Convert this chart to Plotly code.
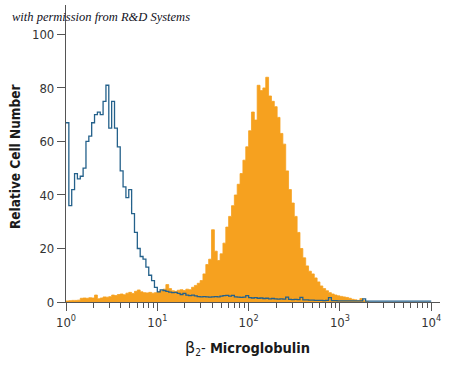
import plotly.graph_objects as go

# ---- data ----
channels_per_decade = 32

isotype_counts = [
    67, 36, 42, 48, 46, 47, 50, 60, 62, 67,
    70, 71, 70, 75, 81, 65, 75, 65, 58, 49,
    43, 39, 42, 33, 26, 20, 17, 16, 13, 10,
    8, 5.5, 3.8, 4.5, 4.3, 4.0, 3.7, 3.5, 3.6, 3.2,
    2.8, 3.2, 2.6, 2.4, 2.6, 2.3, 2.0, 1.9, 2.0, 1.9,
    1.8, 1.9, 2.0, 1.9, 2.2, 2.4, 2.5, 2.2, 2.5, 1.9,
    1.8, 1.7, 1.8, 2.4, 1.6, 1.5, 1.6, 1.4, 1.5, 1.3,
    1.4, 1.2, 1.3, 1.2, 1.1, 1.2, 1.1, 1.8, 1.0, 0.9,
    1.0, 0.9, 1.7, 0.8, 0.8, 0.7, 0.7, 0.6, 0.6, 0.6,
    0.5, 0.6, 1.6, 0.5, 0.5, 0.4, 0.4, 0.4, 0.4, 0.4,
    0.4, 0.4, 0.4, 0.4, 1.2, 0.3, 0.3, 0.3, 0.3, 0.3,
    0.3, 0.3, 0.3, 0.3, 0.3, 0.3, 0.3, 0.3, 0.3, 0.3,
    0.3, 0.3, 0.3, 0.3, 0.3, 0.3, 0.3, 0.3, 0.3,
]

b2m_counts = [
    0.4, 0.5, 0.6, 0.6, 0.7, 1.4, 1.5, 1.4, 1.6, 1.5,
    2.6, 1.2, 1.5, 1.9, 1.8, 2.0, 2.6, 2.4, 2.8, 3.0,
    2.7, 3.3, 3.6, 3.2, 4.0, 4.5, 3.8, 3.5, 3.4, 3.6,
    3.3, 3.5, 3.8, 4.2, 4.8, 6.5, 5.0, 4.2, 4.0, 4.4,
    4.6, 4.3, 4.8, 4.6, 5.5, 6.2, 7.0, 8.0, 10.5, 14,
    16, 27, 19, 15.5, 18, 22, 28, 32, 36, 40,
    44, 48, 53, 58, 64, 71, 68, 81, 79, 80,
    84, 77, 75, 73, 69, 63, 59, 49, 42, 37,
    32, 26, 20, 16.5, 13.5, 11.5, 10.5, 9, 7.5, 6,
    5, 4.2, 3.5, 3.0, 2.6, 2.3, 2.1, 1.9, 1.7, 1.4,
    1.0, 0.8, 0.6, 1.3, 0.5, 0.2, 0,
]

x_tick_values = [1, 10, 100, 1000, 10000]
x_tick_labels = ["10<sup>0</sup>", "10<sup>1</sup>", "10<sup>2</sup>",
                 "10<sup>3</sup>", "10<sup>4</sup>"]
y_tick_values = [0, 20, 40, 60, 80, 100]

# channel -> fluorescence scale
iso_x = [10 ** (i / channels_per_decade) for i in range(len(isotype_counts))]
b2m_x = [10 ** (i / channels_per_decade) for i in range(len(b2m_counts))]
minor_vals = [m * 10 ** d for d in range(4) for m in range(2, 10)]

TICK_FONT = "DejaVu Sans Condensed, Liberation Sans Narrow, DejaVu Sans, sans-serif"
AXIS_COL = "#555555"

fig = go.Figure()
fig.add_trace(go.Scatter(
    x=b2m_x, y=b2m_counts, mode="lines", line_shape="hv",
    line=dict(color="#f6a11f", width=0.8), fill="tozeroy",
    fillcolor="#f6a11f", hoverinfo="skip", showlegend=False,
))
fig.add_trace(go.Scatter(
    x=iso_x, y=isotype_counts, mode="lines", line_shape="hv",
    line=dict(color="#24618b", width=1.3), hoverinfo="skip", showlegend=False,
))

fig.update_layout(
    width=450, height=366,
    margin=dict(l=66, r=10, t=5, b=64),
    paper_bgcolor="white", plot_bgcolor="white",
    font=dict(family=TICK_FONT, color="#333333"),
    xaxis=dict(
        type="log", range=[0, 4.096],
        showline=True, linecolor=AXIS_COL, linewidth=1.2,
        ticks="outside", ticklen=8, tickwidth=1, tickcolor=AXIS_COL,
        tickmode="array", tickvals=x_tick_values, ticktext=x_tick_labels,
        tickfont=dict(size=13, color="#333333", family=TICK_FONT),
        minor=dict(tickmode="array", tickvals=minor_vals, ticks="outside",
                   ticklen=5, tickcolor=AXIS_COL, showgrid=False),
        showgrid=False, zeroline=False,
    ),
    yaxis=dict(
        range=[0, 111],
        showline=True, linecolor=AXIS_COL, linewidth=1.2,
        ticks="outside", ticklen=8, tickwidth=1, tickcolor=AXIS_COL,
        tickmode="array", tickvals=y_tick_values,
        tickfont=dict(size=13, color="#333333", family=TICK_FONT),
        showgrid=False, zeroline=False,
    ),
    annotations=[
        dict(text="<i>with permission from R&amp;D Systems</i>", xref="paper", yref="paper",
             x=(10 - 66) / 374, y=(302 - 17) / 297, xanchor="left", yanchor="middle",
             showarrow=False,
             font=dict(family="Liberation Serif, DejaVu Serif, serif", size=12.5,
                       color="#111122"),
             ),
        dict(text="<b>Relative Cell Number</b>", xref="paper", yref="paper",
             x=(15 - 66) / 374, y=(302 - 157) / 297, xanchor="center", yanchor="middle",
             textangle=-90, showarrow=False,
             font=dict(family=TICK_FONT, size=13.5, color="#1a1a1a")),
        dict(text="<span style='font-family:DejaVu Sans;font-size:16px'>β</span><sub>2</sub>- <b>Microglobulin</b>",
             xref="paper", yref="paper",
             x=(247 - 66) / 374, y=(302 - 348) / 297, xanchor="center", yanchor="middle",
             showarrow=False,
             font=dict(family=TICK_FONT, size=14.5, color="#1a1a1a")),
    ],
)

fig.write_html("out.html", config={"displayModeBar": False},
               post_script="document.body.style.margin='0';")
